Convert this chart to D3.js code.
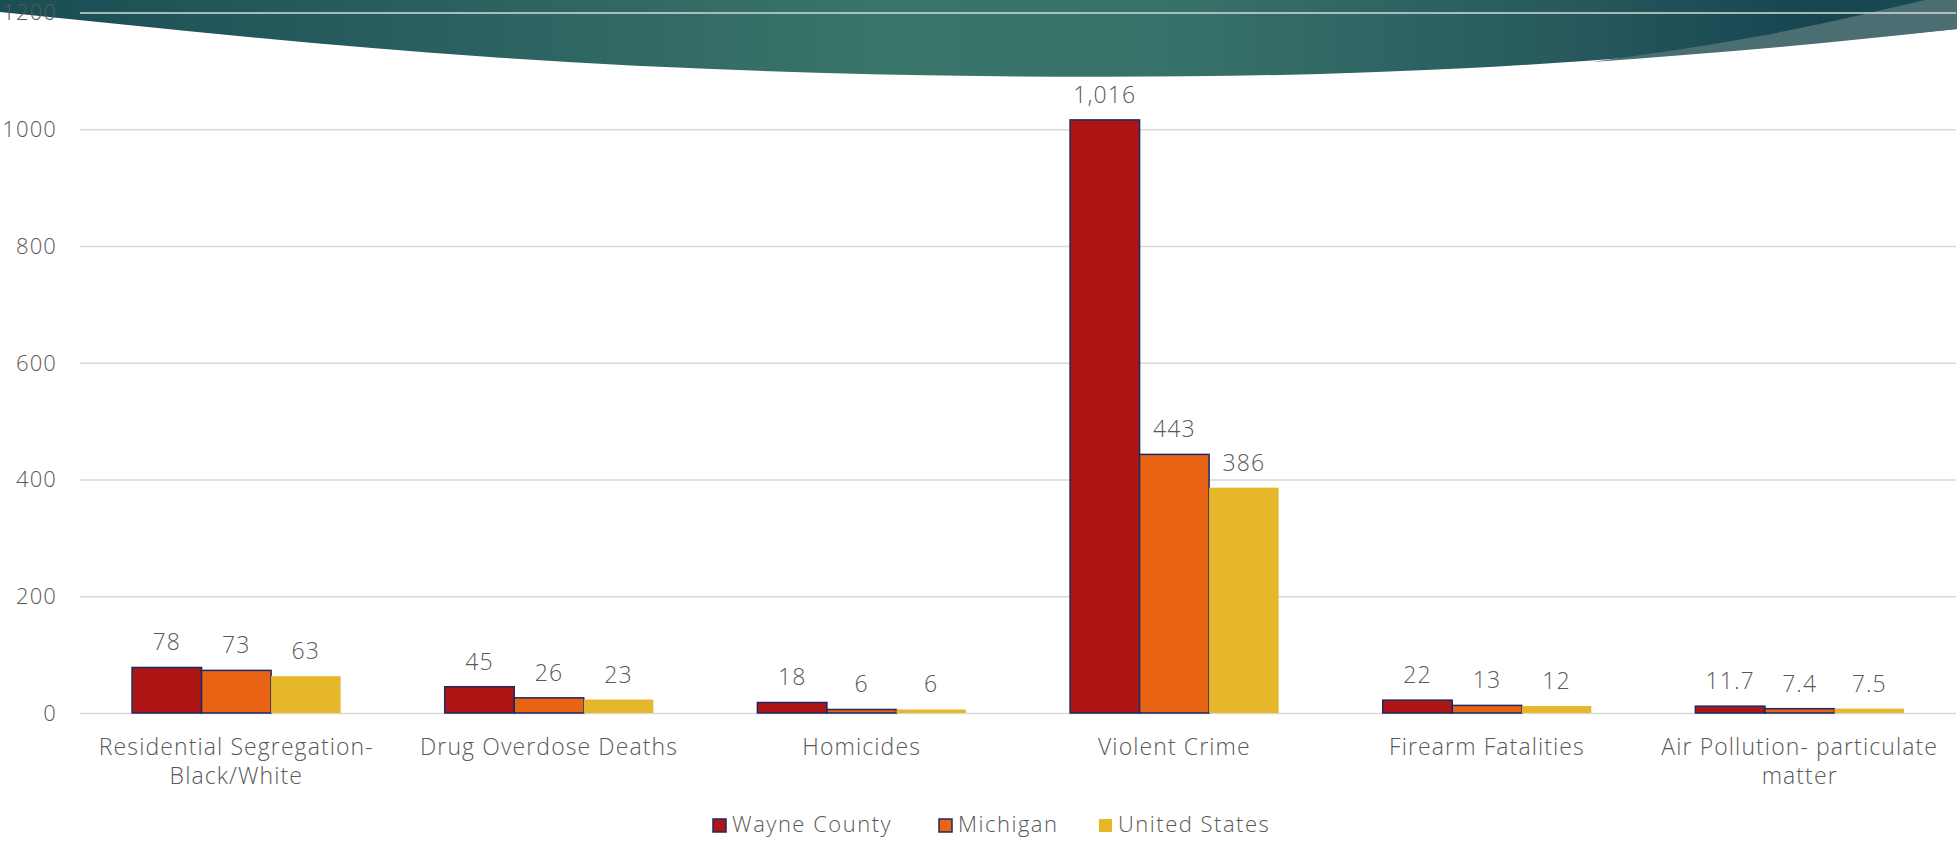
<!DOCTYPE html>
<html lang="en">

<head>
    <meta charset="UTF-8">
    <script src="https://d3js.org/d3.v7.min.js"></script>
    <title>Wayne County Chart</title>
    <style>
        body { margin: 0; background: #fff; }
        text { font-family: "Century Gothic", "Open Sans", sans-serif; font-weight: 300; letter-spacing: 1.1px; fill: #595959; }
    </style>
</head>

<body>
    <svg id="chart" width="1957" height="841"></svg>

    <script>
        // Chart values
        const categories = ["Residential Segregation-Black/White", "Drug Overdose Deaths", "Homicides",
            "Violent Crime", "Firearm Fatalities", "Air Pollution- particulate matter"];
        const categoryLines = [["Residential Segregation-", "Black/White"], ["Drug Overdose Deaths"], ["Homicides"],
            ["Violent Crime"], ["Firearm Fatalities"], ["Air Pollution- particulate", "matter"]];
        const seriesNames = ["Wayne County", "Michigan", "United States"];
        const wayneValues = [78, 45, 18, 1016, 22, 11.7];
        const michiganValues = [73, 26, 6, 443, 13, 7.4];
        const usValues = [63, 23, 6, 386, 12, 7.5];
        const yTicks = [0, 200, 400, 600, 800, 1000, 1200];

        const svg = d3.select("svg#chart");
        const width = +svg.attr("width");
        const margin = { top: 12.5, left: 80, right: 1, bottom: 128.5 };
        const plotBottom = 713;

        const colors = ["#ae1515", "#e86414", "#e6b72b"];
        const outline = "#1b2a63";

        // Build the table for the bars
        const seriesValues = [wayneValues, michiganValues, usValues];
        const table = categories.map((c, i) => ({
            category: c,
            values: seriesNames.map((s, j) => ({ series: s, value: seriesValues[j][i], idx: j }))
        }));

        // --- Banner at the top (decoration from the slide template)
        const defs = svg.append("defs");
        const grad = defs.append("linearGradient").attr("id", "bannerGrad")
            .attr("x1", "0%").attr("x2", "100%").attr("y1", "0%").attr("y2", "0%");
        [[0, "#1b4d54"], [0.2, "#285e5f"], [0.45, "#397569"], [0.6, "#37726a"], [0.8, "#27595d"], [0.92, "#174651"], [1, "#1a4a53"]]
            .forEach(s => grad.append("stop").attr("offset", s[0]).attr("stop-color", s[1]));

        const edge = [[0, 12], [490, 57], [980, 76], [1470, 68], [1957, 29]];
        const edgeLine = d3.line().curve(d3.curveNatural);
        const edgePath = edgeLine(edge.slice().reverse());
        svg.append("path")
            .attr("d", `M0,0L${width},0L` + edgePath.slice(1) + "Z")
            .attr("fill", "url(#bannerGrad)");

        // lighter sweep at the right edge
        const sweep = d3.line().curve(d3.curveNatural)([[1592, 62], [1760, 36], [1925, 0]]);
        const lowerEdge = edgeLine([[1957, 29], [1780, 47], [1592, 62]]);
        svg.append("path")
            .attr("d", sweep + `L${width},0L` + lowerEdge.slice(1) + "Z")
            .attr("fill", "#4a6e71");

        // --- Scales
        const yScale = d3.scaleLinear().domain([0, 1200]).range([plotBottom, margin.top]);
        const x0 = d3.scaleBand().domain(categories)
            .range([margin.left, width - margin.right])
            .paddingInner(0.333).paddingOuter(0.1665);
        const x1 = d3.scaleBand().domain(seriesNames).range([0, x0.bandwidth()]);

        // Gridlines and y labels
        const leftGridlines = d3.axisLeft(yScale)
            .tickValues(yTicks)
            .tickSize(-(width - margin.right - margin.left))
            .tickFormat("");
        svg.append("g")
            .attr("class", "y gridlines")
            .attr("transform", `translate(${margin.left},0)`)
            .call(leftGridlines)
            .call(g => g.select(".domain").remove())
            .call(g => g.selectAll("line").attr("stroke", "#d9d9d9").attr("stroke-width", 1.5));

        svg.append("g").attr("class", "y labels")
            .selectAll("text").data(yTicks).join("text")
            .attr("x", 57)
            .attr("y", d => yScale(d))
            .attr("dy", "0.36em")
            .attr("text-anchor", "end")
            .style("font-size", "22px")
            .text(d => d);

        // Bars
        const groups = svg.append("g").attr("class", "bars")
            .selectAll("g").data(table).join("g")
            .attr("transform", d => `translate(${x0(d.category)},0)`);

        groups.selectAll("rect").data(d => d.values).join("rect")
            .attr("x", d => x1(d.series))
            .attr("y", d => yScale(d.value))
            .attr("width", x1.bandwidth())
            .attr("height", d => plotBottom - yScale(d.value))
            .attr("fill", d => colors[d.idx])
            .attr("stroke", d => d.idx < 2 ? outline : "none")
            .attr("stroke-width", 1.5);

        // Value labels
        groups.selectAll("text").data(d => d.values).join("text")
            .attr("x", d => x1(d.series) + x1.bandwidth() / 2)
            .attr("y", d => yScale(d.value) - 17)
            .attr("text-anchor", "middle")
            .style("font-size", "23px")
            .text(d => d3.format(",")(d.value));

        // Category labels
        const catLabels = svg.append("g").attr("class", "x labels")
            .selectAll("text").data(categories).join("text")
            .attr("x", d => x0(d) + x0.bandwidth() / 2)
            .attr("y", 755)
            .attr("text-anchor", "middle")
            .style("font-size", "23px");
        catLabels.selectAll("tspan").data((d, i) => categoryLines[i]).join("tspan")
            .attr("x", function () { return d3.select(this.parentNode).attr("x"); })
            .attr("dy", (d, i) => i === 0 ? 0 : 29)
            .text(d => d);

        // Legend
        const legendX = [713, 939, 1099];
        const legend = svg.append("g").attr("class", "legend");
        seriesNames.forEach((s, i) => {
            legend.append("rect")
                .attr("x", legendX[i])
                .attr("y", 819)
                .attr("width", 13)
                .attr("height", 13)
                .attr("fill", colors[i])
                .attr("stroke", i < 2 ? outline : "none")
                .attr("stroke-width", 1.5);
            legend.append("text")
                .attr("x", legendX[i] + 19)
                .attr("y", 825)
                .attr("dy", "0.34em")
                .style("font-size", "22px")
                .style("letter-spacing", "1.5px")
                .text(s);
        });
    </script>
</body>

</html>
